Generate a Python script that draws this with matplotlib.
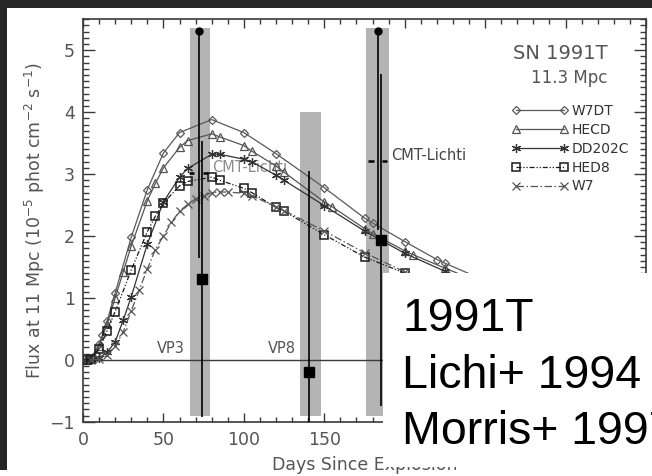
import matplotlib
matplotlib.use("Agg")
import matplotlib.pyplot as plt
from matplotlib.patches import Rectangle
from matplotlib.ticker import MultipleLocator, FuncFormatter
import numpy as np

INK = "#3a3a3a"; SOFT = "#555555"; BAND = "#b4b4b4"; FRAME = "#262626"

# model light curves, flux at 11 Mpc in 1e-5 phot/cm2/s
w7dt_day = [2, 5, 8, 10, 12, 15, 20, 30, 40, 50, 60, 80, 100, 120, 150, 175, 180, 200, 220, 225, 250]
w7dt_flux = [0.0, 0.03, 0.10, 0.25, 0.40, 0.62, 1.08, 1.98, 2.75, 3.34, 3.67, 3.88, 3.67, 3.33, 2.78, 2.29, 2.21, 1.91, 1.62, 1.56, 1.28]

hecd_day = [2, 5, 10, 15, 20, 25, 30, 40, 45, 50, 60, 65, 80, 85, 100, 105, 120, 125, 150, 155, 175, 180, 200, 205, 225, 250]
hecd_flux = [0.0, 0.02, 0.22, 0.58, 1.0, 1.42, 1.84, 2.57, 2.85, 3.10, 3.43, 3.54, 3.65, 3.60, 3.46, 3.37, 3.13, 3.03, 2.55, 2.47, 2.12, 2.04, 1.76, 1.70, 1.48, 1.22]

dd202c_day = [2, 5, 10, 15, 20, 25, 30, 40, 50, 60, 65, 80, 85, 100, 105, 120, 125, 150, 175, 200, 225, 250]
dd202c_flux = [0.0, 0.0, 0.03, 0.12, 0.29, 0.64, 1.02, 1.87, 2.55, 2.95, 3.09, 3.32, 3.32, 3.24, 3.20, 2.98, 2.90, 2.49, 2.08, 1.72, 1.43, 1.17]

hed8_day = [2, 5, 10, 15, 20, 30, 40, 45, 50, 60, 65, 80, 85, 100, 105, 120, 125, 150, 175, 200, 225, 250]
hed8_flux = [0.0, 0.02, 0.18, 0.47, 0.78, 1.45, 2.07, 2.32, 2.53, 2.81, 2.88, 2.95, 2.90, 2.77, 2.70, 2.46, 2.40, 2.02, 1.66, 1.40, 1.13, 0.90]

w7_day = [5, 10, 15, 20, 25, 30, 35, 40, 45, 50, 55, 60, 65, 70, 75, 80, 85, 90, 100, 105, 120, 125, 150, 175, 200, 225, 250]
w7_flux = [0.0, 0.01, 0.07, 0.22, 0.45, 0.79, 1.13, 1.47, 1.78, 2.0, 2.22, 2.40, 2.51, 2.60, 2.65, 2.70, 2.71, 2.71, 2.69, 2.65, 2.47, 2.41, 2.08, 1.73, 1.42, 1.14, 0.90]

# COMPTEL viewing periods (shaded) and measured fluxes
band_start = [66.5, 134.9, 175.7]
band_end = [79.0, 148.0, 190.4]
band_low = [-0.91, -0.91, -0.91]
band_high = [5.36, 4.01, 5.36]

obs_day = [74.0, 140.7, 185.1]
obs_flux = [1.31, -0.20, 1.93]
obs_err = [2.23, 3.25, 2.68]

lim_day = [71.9, 183.2]
lim_top = [5.31, 5.31]
lim_bottom = [1.65, 2.10]
cmt_level = [3.02, 3.21]

vp_names = ["VP3", "VP8"]
vp_day = [54.7, 123.4]

fig = plt.figure(figsize=(6.52, 4.76), dpi=100, facecolor="white")
ax = fig.add_axes([83/652, 54.3/476, 563/652, 402.4/476])

ax.bar(band_start, np.subtract(band_high, band_low), width=np.subtract(band_end, band_start),
       bottom=band_low, align="edge", color=BAND, lw=0, zorder=1)
ax.axhline(0, color=INK, lw=1.0, zorder=2)

# first CMT-Lichti label sits under the curves
ax.text(lim_day[0] + 8.3, cmt_level[0] + 0.09, "CMT-Lichti", color="#8c8c8c", fontsize=10.5,
        va="center", ha="left", zorder=2)
ax.text(lim_day[1] + 8.3, cmt_level[1] + 0.09, "CMT-Lichti", color="#444444", fontsize=10.5,
        va="center", ha="left", zorder=6)
for d, lv in zip(lim_day, cmt_level):
    ax.hlines([lv, lv], [d - 6.0, d + 2.6], [d - 2.6, d + 6.0], color="black", lw=1.8, zorder=5)

models = [
    ("W7DT", w7dt_day, w7dt_flux, dict(marker="D", ms=4.3, ls="-", color="#5a5a5a")),
    ("HECD", hecd_day, hecd_flux, dict(marker="^", ms=6, ls="-", color="#555555")),
    ("DD202C", dd202c_day, dd202c_flux, dict(marker=(6, 2, 0), ms=6.5, ls="-", color="#333333")),
    ("HED8", hed8_day, hed8_flux, dict(marker="s", ms=6.3, ls=(0, (4, 1.5, 1, 1.5, 1, 1.5)), color="#1a1a1a", mew=1.1)),
    ("W7", w7_day, w7_flux, dict(marker="x", ms=5.5, ls=(0, (6, 2, 1.2, 2)), color="#555555")),
]
handles = []
for name, d, f, st in models:
    st.setdefault("mew", 0.9)
    ln, = ax.plot(d, f, lw=0.9, mfc="none", label=name, zorder=4, **st)
    handles.append(ln)

ax.errorbar(obs_day, obs_flux, yerr=obs_err, fmt="s", ms=7.2, color="black", ecolor="black",
            elinewidth=1.2, capsize=0, zorder=7)
ax.vlines(lim_day, lim_bottom, lim_top, color="black", lw=1.2, zorder=7)
ax.plot(lim_day, lim_top, "o", ms=5, color="black", zorder=8)

for name, d in zip(vp_names, vp_day):
    ax.text(d, 0.18, name, ha="center", va="center", color=SOFT, fontsize=10.5, zorder=6)

ax.text(0.932, 0.915, "SN 1991T", transform=ax.transAxes, ha="right", va="center", color=SOFT, fontsize=14)
ax.text(0.932, 0.853, "11.3 Mpc", transform=ax.transAxes, ha="right", va="center", color=SOFT, fontsize=12)

leg = ax.legend(handles=handles, numpoints=2, frameon=False, fontsize=10, loc="upper left",
                bbox_to_anchor=(504.8/652, 1 - 97/476), bbox_transform=fig.transFigure,
                borderpad=0, handlelength=4.05, handletextpad=0.28, labelspacing=0.35)
for t in leg.get_texts():
    t.set_color("#333333")

ax.set_xlim(0, 350)
ax.set_ylim(-1, 5.5)
ax.xaxis.set_major_locator(MultipleLocator(50))
ax.xaxis.set_minor_locator(MultipleLocator(10))
# labels past day 150 sit under the caption box
ax.xaxis.set_major_formatter(FuncFormatter(lambda v, p: f"{v:.0f}" if v <= 150 else ""))
ax.yaxis.set_major_locator(MultipleLocator(1))
ax.yaxis.set_minor_locator(MultipleLocator(0.1))
ax.tick_params(which="both", direction="in", top=True, right=True, color=INK, width=1.0,
               labelsize=12.5, labelcolor=SOFT)
ax.tick_params(axis="x", which="major", length=6.5, pad=7)
ax.tick_params(axis="x", which="minor", length=3.6)
ax.tick_params(axis="y", which="major", length=8.5, pad=6)
ax.tick_params(axis="y", which="minor", length=4.5)
for s in ax.spines.values():
    s.set_color(INK); s.set_linewidth(1.2)

ax.set_xlabel("Days Since Explosion", fontsize=12.5, color=SOFT)
ax.xaxis.set_label_coords(0.5, -0.085)
ax.xaxis.label.set_va("top")
ax.set_ylabel(r"Flux at 11 Mpc (10$^{-5}$ phot cm$^{-2}$ s$^{-1}$)", fontsize=12.5, color=SOFT)
ax.yaxis.set_label_coords(-0.064, 0.5)

# white caption box pasted over the lower right of the plot
box_top = 1 - 273/476
box_bottom = 1 - 467/476
fig.add_artist(Rectangle((383/652, box_bottom), 1, box_top - box_bottom, transform=fig.transFigure,
                         facecolor="white", edgecolor="none", zorder=10))
caption = ["1991T", "Lichi+ 1994", "Morris+ 1997"]
for i, line in enumerate(caption):
    fig.text(0.617, (476 - 331 - i*56.7)/476, line, fontsize=33.5, color="black",
             family="Liberation Sans", va="baseline", ha="left", zorder=11)

# dark slide frame on top and left
fig.add_artist(Rectangle((0, 1 - 8/476), 1, 8/476, transform=fig.transFigure,
                         facecolor=FRAME, edgecolor="none", zorder=12))
fig.add_artist(Rectangle((0, 6/476), 7/652, 1, transform=fig.transFigure,
                         facecolor=FRAME, edgecolor="none", zorder=12))

fig.savefig("out.png", dpi=100, facecolor="white")
